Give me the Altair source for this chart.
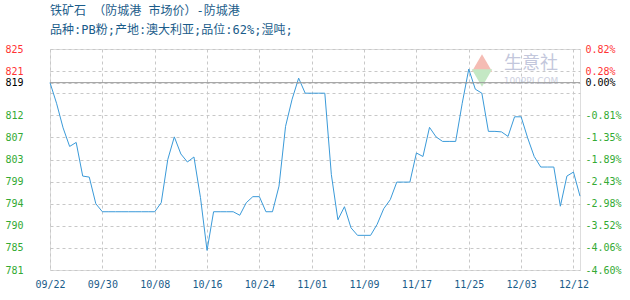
import altair as alt
import pandas as pd

title_lines = ["铁矿石 （防城港 市场价）-防城港", "品种:PB粉;产地:澳大利亚;品位:62%;湿吨;"]
date_labels = ["09/22", "09/30", "10/08", "10/16", "10/24", "11/01",
               "11/09", "11/17", "11/25", "12/03", "12/12"]
date_ticks = [0, 8, 16, 24, 32, 40, 48, 56, 64, 72, 80]

prices = [
    818.3, 814.2, 809.3, 805.6, 806.4, 799.7, 799.5, 794.2, 792.6,
    792.6, 792.6, 792.6, 792.6, 792.6, 792.6, 792.6, 792.6,
    794.4, 803.0, 807.5, 804.1, 802.5, 803.5, 795.4, 784.9, 792.6,
    792.6, 792.6, 792.6, 791.9, 794.4, 795.6, 795.6, 792.6, 792.6,
    797.7, 809.6, 815.0, 819.2, 816.2, 816.2, 816.2, 816.2, 800.0,
    791.0, 793.6, 789.4, 787.9, 787.9, 787.9, 790.1, 793.2, 795.0,
    798.5, 798.5, 798.5, 804.3, 803.6, 809.4, 807.5, 806.6, 806.6,
    806.6, 814.2, 821.0, 817.0, 816.2, 808.6, 808.6, 808.5, 807.6,
    811.5, 811.5, 807.3, 803.6, 801.5, 801.5, 801.5, 793.7, 799.7,
    800.5, 795.7,
]
base_price = prices[0]

y_ticks = [781, 785.4, 789.8, 794.2, 798.6, 803, 807.4, 811.8, 816.2, 820.6, 825]
left_labels = ["781", "785", "790", "794", "799", "803", "807", "812", "", "821", "825"]
right_labels = ["-4.60%", "-4.06%", "-3.52%", "-2.98%", "-2.43%", "-1.89%",
                "-1.35%", "-0.81%", "", "0.28%", "0.82%"]
base_left_label = "819"
base_right_label = "0.00%"
watermark_text = ["生意社", "100PPI.COM"]

FONT_AX = "DejaVu Sans Mono"
FONT_TITLE = "'DejaVu Sans Mono', 'Noto Sans CJK SC'"
BLUE_TXT = "#1a5c8a"


def label_expr(vals, labs, base, base_lab):
    parts = [f"abs(datum.value - {base}) < 0.01 ? '{base_lab}'"]
    for v, l in zip(vals, labs):
        parts.append(f"abs(datum.value - {v}) < 0.01 ? '{l}'")
    return " : ".join(parts) + " : ''"


color_cond = {
    "condition": [
        {"test": f"abs(datum.value - {base_price}) < 0.01", "value": "#000000"},
        {"test": f"datum.value > {base_price}", "value": "#ff3333"},
    ],
    "value": "#33aa33",
}

df = pd.DataFrame({"i": list(range(len(prices))), "price": prices})
base_df = pd.DataFrame({"price": [base_price]})

yscale = alt.Scale(domain=[y_ticks[0], y_ticks[-1]], nice=False, zero=False)
xscale = alt.Scale(domain=[0, len(prices) - 1], nice=False, zero=False)

date_arr = "[" + ",".join(f"'{d}'" for d in date_labels) + "]"

x_enc = alt.X(
    "i:Q", scale=xscale,
    axis=alt.Axis(values=date_ticks, labelExpr=f"{date_arr}[indexof({date_ticks}, datum.value)]",
                  grid=True, gridDash=[3, 3], gridColor="#c8c8c8", domain=False,
                  ticks=False, tickSize=0, labelPadding=9, labelFont=FONT_AX,
                  labelFontSize=10, labelColor=BLUE_TXT, title=None,
                  labelOverlap=False, labelFlush=False, labelBound=False),
)

line = alt.Chart(df).mark_line(color="#3a9ad9", strokeWidth=1).encode(
    x=x_enc,
    y=alt.Y("price:Q", scale=yscale,
            axis=alt.Axis(orient="left", values=y_ticks + [base_price],
                          labelExpr=label_expr(y_ticks, left_labels, base_price, base_left_label),
                          labelColor=color_cond, grid=True, gridDash=[3, 3],
                          gridColor="#c8c8c8", domain=False, ticks=False, tickSize=0,
                          labelAlign="left", labelPadding=45, labelFont=FONT_AX,
                          labelFontSize=10, labelBaseline="middle", title=None,
                          labelOverlap=False, labelFlush=False, labelBound=False)),
)

base_rule = alt.Chart(base_df).mark_rule(color="#999999", strokeWidth=1).encode(
    y=alt.Y("price:Q", scale=yscale,
            axis=alt.Axis(orient="right", values=y_ticks + [base_price],
                          labelExpr=label_expr(y_ticks, right_labels, base_price, base_right_label),
                          labelColor=color_cond, grid=False, domain=False, ticks=False,
                          tickSize=0, labelAlign="left", labelPadding=5, labelFont=FONT_AX,
                          labelFontSize=10, labelBaseline="middle", title=None,
                          labelOverlap=False, labelFlush=False, labelBound=False)),
)

wm_df = pd.DataFrame({"t": [watermark_text[0]]})
wm_df2 = pd.DataFrame({"t": [watermark_text[1]]})
wm1 = alt.Chart(wm_df).mark_text(font="Noto Sans CJK SC", fontSize=18, fontWeight="normal",
                                 color="#c3c7dc").encode(
    x=alt.value(481), y=alt.value(15), text="t:N")
wm2 = alt.Chart(wm_df2).mark_text(font="DejaVu Sans", fontSize=9, color="#cdd0e0").encode(
    x=alt.value(481), y=alt.value(31.5), text="t:N")
tri_up = alt.Chart(wm_df).mark_point(shape="triangle-up", filled=True, size=420,
                                     color="#f5bcb4", opacity=1).encode(
    x=alt.value(432), y=alt.value(14))
tri_dn = alt.Chart(wm_df).mark_point(shape="triangle-down", filled=True, size=420,
                                     color="#c4e8c4", opacity=1).encode(
    x=alt.value(432), y=alt.value(29))

chart = alt.layer(tri_up, tri_dn, wm1, wm2, line, base_rule).resolve_scale(
    y="independent"
).properties(
    width=530, height=221, autosize="none",
    padding={"left": 50, "top": 49, "right": 50, "bottom": 30},
    title=alt.TitleParams(text=title_lines, anchor="start", frame="group",
                          font=FONT_TITLE, fontSize=12, fontWeight="normal",
                          color=BLUE_TXT, lineHeight=19, offset=7),
).configure_view(stroke="#999999", strokeWidth=1).configure(background="white")

chart.save("out.html", embed_options={"renderer": "svg", "actions": False})
